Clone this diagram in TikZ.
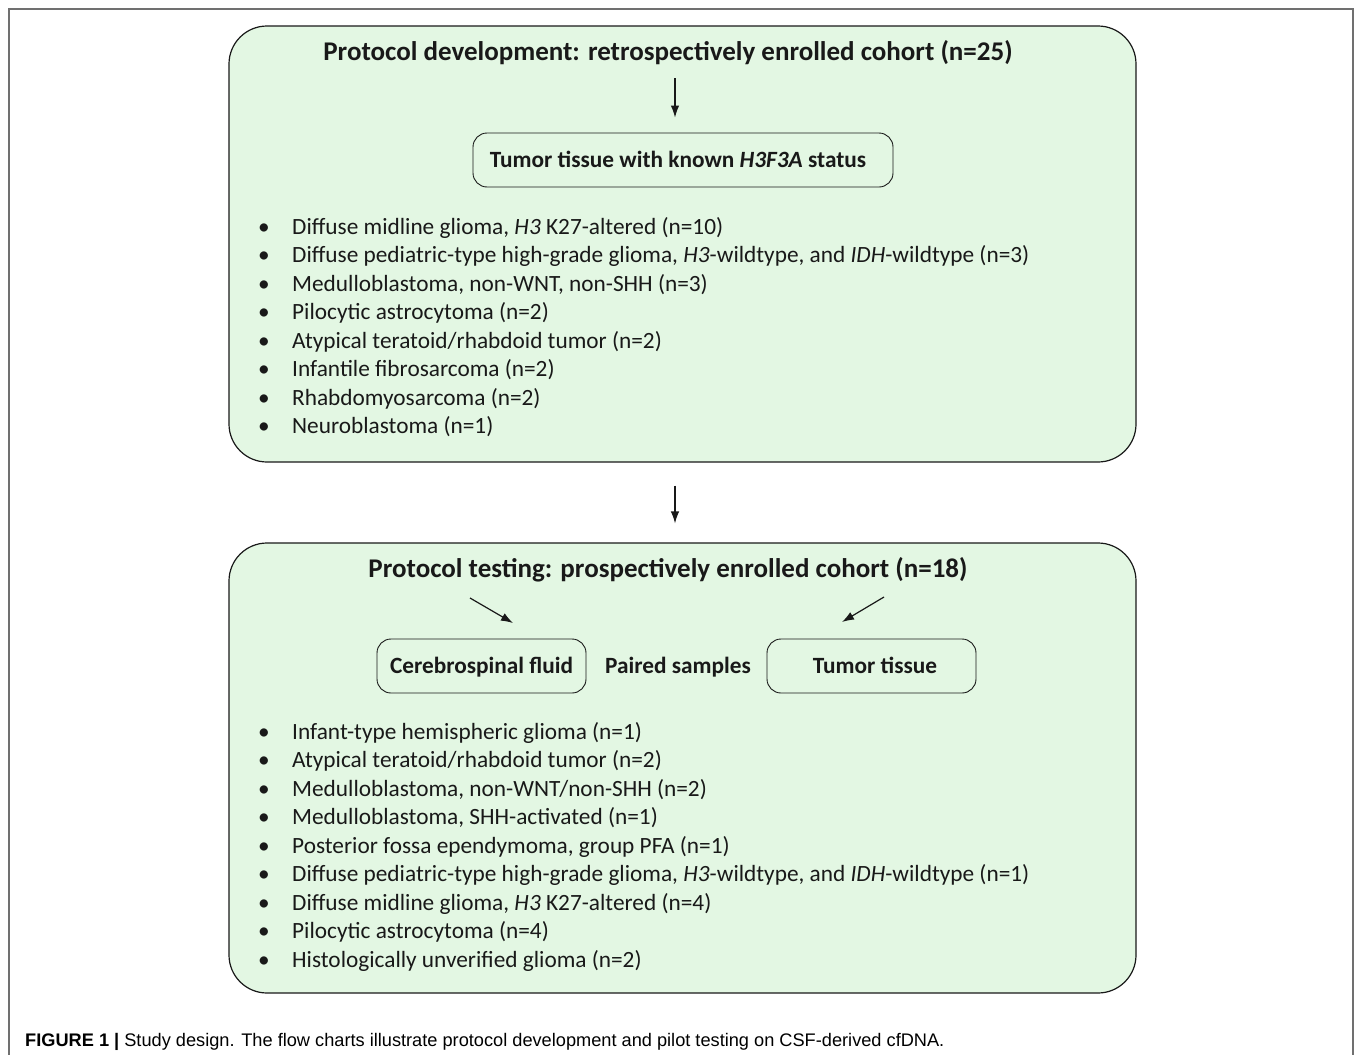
\documentclass[tikz,border=0pt]{standalone}
\usepackage{fontspec}
\setmainfont{Carlito}
\newfontfamily\capfont{Liberation Sans}
\usetikzlibrary{arrows.meta,positioning}

\definecolor{boxgreen}{RGB}{227,247,227}
\definecolor{framegray}{RGB}{112,112,112}
\definecolor{ink}{RGB}{25,25,25}
\newcommand{\itm}[1]{\makebox[34pt][l]{\textbullet}#1}

\begin{document}
\begin{tikzpicture}[x=1pt,y=-1pt,>={Latex[length=12pt,width=8.5pt]},
    cohort/.style={draw=ink,fill=boxgreen,rounded corners=38pt,line width=1.2pt,inner sep=0pt},
    sample/.style={draw=ink,rounded corners=14pt,line width=0.9pt,minimum height=54pt,
        text height=18pt,text depth=3pt,font=\fontsize{23.3}{26}\selectfont\bfseries,text=ink},
    heading/.style={font=\fontsize{27}{30}\selectfont\bfseries,text=ink},
    link/.style={->,ink,line width=1.2pt},
    cases/.style={align=left,anchor=north west,inner sep=0pt,text=ink,
        font=\fontsize{23.3}{28.5}\selectfont}]
    \useasboundingbox (0,0) rectangle (1355,1055);
    \draw[framegray,line width=1.6pt] (9,1056) -- (9,9) -- (1353,9) -- (1353,1056);

    % retrospective cohort
    \node[cohort,minimum width=907pt,minimum height=436pt] (retro) at (682.5,244) {};
    \node[heading] (title1) at (668,53) {Protocol development: retrospectively enrolled cohort (n=25)};
    \node[sample,minimum width=420pt] (tissue) at (683,160) {Tumor tissue with known \textit{H3F3A} status\hspace*{10pt}};
    \coordinate (t1) at (675,78);
    \draw[link,shorten >=15pt] (t1) -- (t1 |- tissue.north);
    \node[cases] (list1) at (258,217) {%
        \itm{Diffuse midline glioma, \textit{H3} K27-altered (n=10)}\\
        \itm{Diffuse pediatric-type high-grade glioma, \textit{H3}-wildtype, and \textit{IDH}-wildtype (n=3)}\\
        \itm{Medulloblastoma, non-WNT, non-SHH (n=3)}\\
        \itm{Pilocytic astrocytoma (n=2)}\\
        \itm{Atypical teratoid/rhabdoid tumor (n=2)}\\
        \itm{Infantile fibrosarcoma (n=2)}\\
        \itm{Rhabdomyosarcoma (n=2)}\\
        \itm{Neuroblastoma (n=1)}};

    % prospective cohort
    \node[cohort,minimum width=907pt,minimum height=450pt] (prosp) at (682.5,768) {};
    \draw[link,shorten <=23pt,shorten >=19pt] ([xshift=-7.5pt]retro.south) -- ([xshift=-7.5pt]prosp.north);
    \node[heading] (title2) at (668,570) {Protocol testing: prospectively enrolled cohort (n=18)};
    \node[sample,minimum width=209pt] (csf) at (481.5,666) {Cerebrospinal fluid};
    \node[sample,minimum width=209pt] (tumor) at (871.5,666) {\hspace*{7pt}Tumor tissue};
    \node[sample,draw=none] (paired) at (678,666) {Paired samples};
    \coordinate (a1) at (470,598);
    \coordinate (a2) at (884,597);
    \draw[link] (a1) -- (513,623);
    \draw[link] (a2) -- (842,622);
    \node[cases] (list2) at (258,722) {%
        \itm{Infant-type hemispheric glioma (n=1)}\\
        \itm{Atypical teratoid/rhabdoid tumor (n=2)}\\
        \itm{Medulloblastoma, non-WNT/non-SHH (n=2)}\\
        \itm{Medulloblastoma, SHH-activated (n=1)}\\
        \itm{Posterior fossa ependymoma, group PFA (n=1)}\\
        \itm{Diffuse pediatric-type high-grade glioma, \textit{H3}-wildtype, and \textit{IDH}-wildtype (n=1)}\\
        \itm{Diffuse midline glioma, \textit{H3} K27-altered (n=4)}\\
        \itm{Pilocytic astrocytoma (n=4)}\\
        \itm{Histologically unverified glioma (n=2)}};

    % caption
    \node[anchor=base west,inner sep=0pt,font=\capfont\fontsize{18.2}{20}\selectfont] (caption) at (25,1046)
        {\textbf{FIGURE 1 |} Study design. The flow charts illustrate protocol development and pilot testing on CSF-derived cfDNA.};
\end{tikzpicture}
\end{document}
